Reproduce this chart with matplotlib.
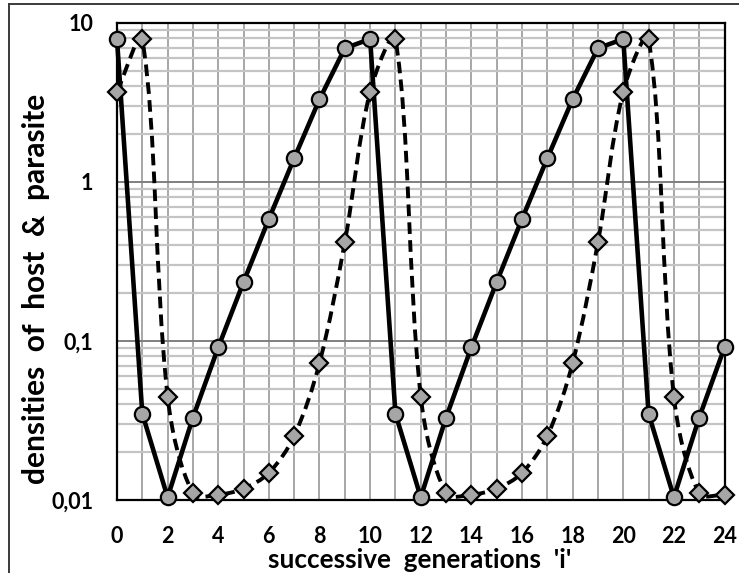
"""
Host-parasite densities over successive generations -- log-scale line chart,
host as solid straight line with circles, parasite as smoothed dashed line with diamonds."""

import matplotlib
matplotlib.use("Agg")
import matplotlib.pyplot as plt
import numpy as np
from matplotlib.patches import PathPatch
from matplotlib.path import Path
from matplotlib.ticker import FixedLocator, NullFormatter

plt.rcParams["font.family"] = ["Lato", "DejaVu Sans"]
plt.rcParams["font.weight"] = "bold"

# data (generation i = 0..24)
generations = list(range(25))
host = [7.93, 0.0349, 0.0104, 0.033, 0.0912, 0.235, 0.585, 1.41, 3.31, 6.93,
        7.93, 0.0349, 0.0104, 0.033, 0.0912, 0.235, 0.585, 1.41, 3.31, 6.93,
        7.93, 0.0349, 0.0104, 0.033, 0.0912]
parasite = [3.70, 7.93, 0.0447, 0.0110, 0.0108, 0.0118, 0.0148, 0.0253, 0.0728, 0.418,
            3.70, 7.93, 0.0447, 0.0110, 0.0108, 0.0118, 0.0148, 0.0253, 0.0728, 0.418,
            3.70, 7.93, 0.0447, 0.0110, 0.0108]
y_ticks = [0.01, 0.1, 1, 10]
y_tick_labels = ["0,01", "0,1", "1", "10"]
x_ticks = list(range(0, 25, 2))

GREY_FILL = "#a6a6a6"
FIG_W, FIG_H, DPI = 7.39, 5.73, 100
AX_RECT = [0.1583, 0.1274, 0.8221, 0.8325] # [left, bottom, width, height] as figure fractions


def _smooth_path(xs, ys, sx, sy):
    """spreadsheet-style smoothed line: Catmull-Rom Beziers whose handles are scaled by the
    neighbouring segment lengths (stops big overshoot next to steep drops).
    Built on screen-like coords (sx px per x unit, sy px per decade), then mapped back"""
    px = np.asarray(xs, dtype=float) * sx
    py = np.log10(np.asarray(ys, dtype=float)) * sy
    pts = np.column_stack([px, py])
    n = len(pts)
    seg = np.hypot(*np.diff(pts, axis=0).T) # length of each segment on screen
    h_in = np.zeros_like(pts)
    h_out = np.zeros_like(pts)
    for k in range(n):
        prev_pt = pts[max(k - 1, 0)]
        next_pt = pts[min(k + 1, n - 1)]
        tang = (next_pt - prev_pt) / 6
        d_prev = seg[k - 1] if k > 0 else 0.0
        d_next = seg[k] if k < n - 1 else 0.0
        tot = d_prev + d_next
        h_in[k] = pts[k] - tang * (2 * d_prev / tot)
        h_out[k] = pts[k] + tang * (2 * d_next / tot)
    verts = [pts[0]]
    codes = [Path.MOVETO]
    for k in range(n - 1):
        verts += [h_out[k], h_in[k + 1], pts[k + 1]]
        codes += [Path.CURVE4] * 3
    verts = np.array(verts)
    verts[:, 0] = verts[:, 0] / sx
    verts[:, 1] = 10 ** (verts[:, 1] / sy) # back to data units; log axis maps them to the right spots
    return Path(verts, codes)


fig = plt.figure(figsize=(FIG_W, FIG_H), dpi=DPI)
ax = fig.add_axes(AX_RECT)
ax.set_yscale("log")
ax.set_xlim(0, 24)
ax.set_ylim(0.01, 10)

# grid: every generation vertically, decades darker than the 2..9 minors
ax.xaxis.set_minor_locator(FixedLocator(generations))
ax.grid(True, which="minor", axis="x", color="#a0a0a0", linewidth=1.3)
ax.grid(True, which="major", axis="x", color="#a0a0a0", linewidth=1.3)
ax.grid(True, which="major", axis="y", color="#7f7f7f", linewidth=1.4)
ax.grid(True, which="minor", axis="y", color="#c4c4c4", linewidth=1.6)
ax.set_axisbelow(True)

# host -- straight solid line with circles
ax.plot(generations, host, color="black", linewidth=3.3, zorder=3,
        marker="o", markersize=11, markerfacecolor=GREY_FILL,
        markeredgecolor="black", markeredgewidth=1.6, clip_on=False)

# parasite -- smoothed dashed curve, markers on top
px_per_x = FIG_W * DPI * AX_RECT[2] / 24
px_per_dec = FIG_H * DPI * AX_RECT[3] / 3
ax.add_patch(PathPatch(_smooth_path(generations, parasite, px_per_x, px_per_dec), fill=False,
                       edgecolor="black", linewidth=2.8, linestyle=(0, (3.0, 1.6)),
                       zorder=4))
ax.plot(generations, parasite, linestyle="none", zorder=5,
        marker="D", markersize=9.3, markerfacecolor=GREY_FILL,
        markeredgecolor="black", markeredgewidth=1.6, clip_on=False)

ax.set_xticks(x_ticks)
ax.set_yticks(y_ticks)
ax.set_yticklabels(y_tick_labels)
ax.yaxis.set_minor_formatter(NullFormatter())
ax.tick_params(which="both", length=0)
ax.tick_params(axis="x", pad=19, labelsize=15.5)
ax.tick_params(axis="y", pad=17, labelsize=15.5)
for spine in ax.spines.values():
    spine.set_color("black")
    spine.set_linewidth(1.6)
    spine.set_zorder(2.5)

fig.text(0.049, 0.496, "densities  of  host  &  parasite", rotation=90,
         ha="center", va="center", fontsize=21.5, fontweight="bold")
fig.text(0.568, 0.022, "successive  generations  'i'",
         ha="center", va="center", fontsize=18.8, fontweight="bold")

# partial outer frame of the chart area (left and top edges only)
fig.add_artist(plt.Line2D([0.0125, 0.0125], [0.0, 0.993], transform=fig.transFigure,
                          color="#3a3a3a", linewidth=1.4))
fig.add_artist(plt.Line2D([0.0125, 1.0], [0.993, 0.993], transform=fig.transFigure,
                          color="#3a3a3a", linewidth=1.4))

fig.savefig("out.png", dpi=DPI, facecolor="white")
